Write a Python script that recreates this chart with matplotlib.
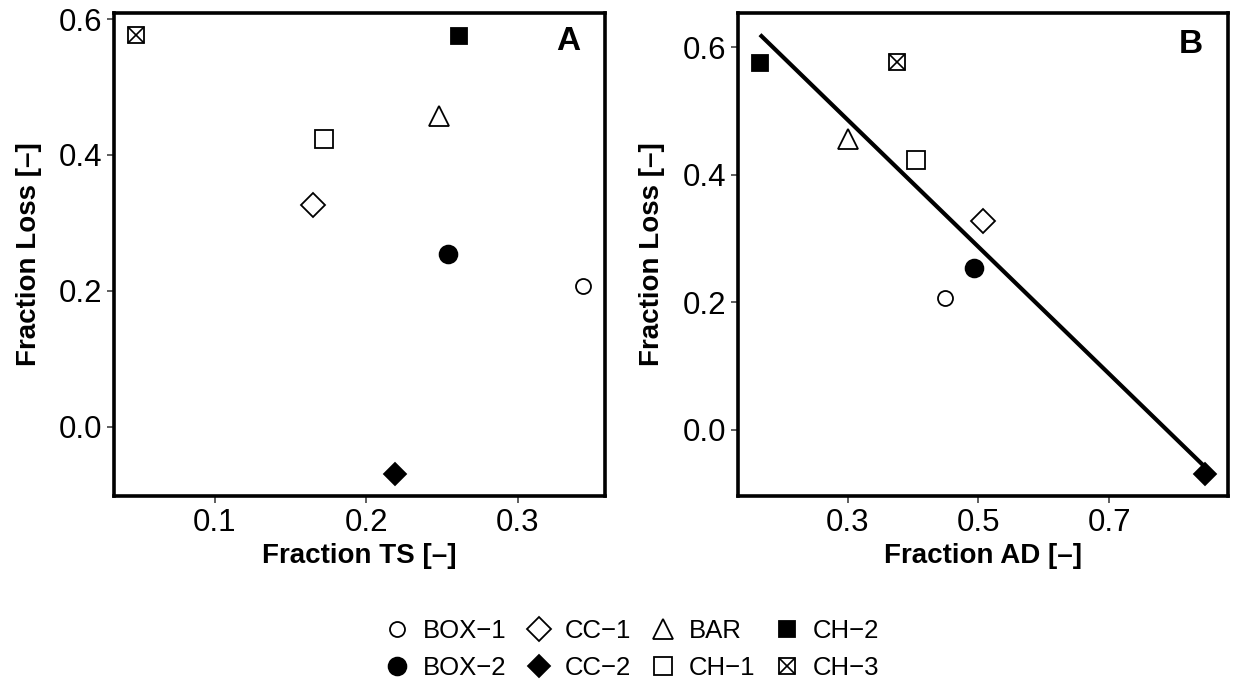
import numpy as np
import matplotlib
matplotlib.use("Agg")
import matplotlib.pyplot as plt
from matplotlib.ticker import FormatStrFormatter
from matplotlib.legend_handler import HandlerTuple

plt.rcParams['font.family'] = ['Liberation Sans', 'DejaVu Sans']

# reactor data
labels = ['BOX\u22121', 'BOX\u22122', 'CC\u22121', 'CC\u22122', 'BAR', 'CH\u22121', 'CH\u22122', 'CH\u22123']
frac_ts = [0.343, 0.254, 0.165, 0.219, 0.248, 0.172, 0.261, 0.048]
frac_ad = [0.449, 0.493, 0.507, 0.847, 0.300, 0.405, 0.166, 0.375]
frac_loss = [0.207, 0.254, 0.327, -0.069, 0.457, 0.424, 0.575, 0.577]

# marker, size, filled
styles = {
    'BOX\u22121': ('o', 10.8, False),
    'BOX\u22122': ('o', 12.8, True),
    'CC\u22121': ('D', 12.3, False),
    'CC\u22122': ('D', 11.6, True),
    'BAR': ('^', 15, False),
    'CH\u22121': ('s', 12.3, False),
    'CH\u22122': ('s', 11.5, True),
    'CH\u22123': ('s', 12.0, False),
}


def draw_point(ax, x, y, lab):
    m, ms, filled = styles[lab]
    fc = 'black' if filled else 'white'
    h = ax.plot([x], [y], linestyle='none', marker=m, ms=ms, mfc=fc, mec='black',
                mew=1.3, zorder=3)[0]
    if lab == 'CH\u22123':
        hx = ax.plot([x], [y], linestyle='none', marker='x', ms=ms, mec='black',
                     mew=1.2, zorder=4)[0]
        return (h, hx)
    return h


def style_axes(ax):
    for sp in ax.spines.values():
        sp.set_linewidth(2.6)
        sp.set_color('black')
    ax.tick_params(direction='out', length=5, width=1.1, colors='#333333',
                   labelsize=22.5, labelcolor='black', pad=3.5)


fig = plt.figure(figsize=(12.33, 6.87), dpi=100)
axA = fig.add_axes([114 / 1233, 1 - 495.7 / 687, 491 / 1233, 483 / 687])
axB = fig.add_axes([737.7 / 1233, 1 - 495.7 / 687, 490 / 1233, 483 / 687])

handles = []
for i, lab in enumerate(labels):
    draw_point(axA, frac_ts[i], frac_loss[i], lab)
    handles.append(draw_point(axB, frac_ad[i], frac_loss[i], lab))

# linear fit for panel B
coef = np.polyfit(frac_ad, frac_loss, 1)
xfit = np.array([min(frac_ad), max(frac_ad)])
axB.plot(xfit, np.polyval(coef, xfit), color='black', lw=3, zorder=2,
         solid_capstyle='butt')

axA.set_xticks([0.1, 0.2, 0.3])
axA.set_yticks([0.0, 0.2, 0.4, 0.6])
axB.set_xticks([0.3, 0.5, 0.7])
axB.set_yticks([0.0, 0.2, 0.4, 0.6])
for ax in (axA, axB):
    ax.xaxis.set_major_formatter(FormatStrFormatter('%.1f'))
    ax.yaxis.set_major_formatter(FormatStrFormatter('%.1f'))
    style_axes(ax)
    ax.set_ylabel('Fraction Loss [\u2013]', fontsize=20, fontweight='bold')

axA.set_xlabel('Fraction TS [\u2013]', fontsize=20, fontweight='bold')
axB.set_xlabel('Fraction AD [\u2013]', fontsize=20, fontweight='bold')
axA.yaxis.set_label_coords(-0.146, 0.5)
axB.yaxis.set_label_coords(-0.149, 0.5)
axA.xaxis.set_label_coords(0.5, -0.098)
axB.xaxis.set_label_coords(0.5, -0.098)

axA.text(0.9505, 0.972, 'A', transform=axA.transAxes, ha='right', va='top',
         fontsize=24, fontweight='bold')
axB.text(0.949, 0.966, 'B', transform=axB.transAxes, ha='right', va='top',
         fontsize=24, fontweight='bold')

fig.legend(handles, labels, ncol=4, loc='center', bbox_to_anchor=(0.512, 0.054),
           frameon=False, fontsize=18.5, handlelength=1.1, handletextpad=0.45,
           columnspacing=0.7, labelspacing=0.51, borderpad=0,
           handler_map={tuple: HandlerTuple(ndivide=1, pad=0)})

fig.savefig('out.png', dpi=100)
